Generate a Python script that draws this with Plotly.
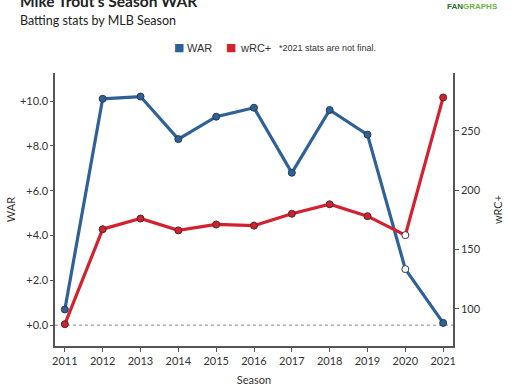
import plotly.graph_objects as go

seasons = [2011, 2012, 2013, 2014, 2015, 2016, 2017, 2018, 2019, 2020, 2021]
war = [0.7, 10.1, 10.2, 8.3, 9.3, 9.7, 6.8, 9.6, 8.5, 2.5, 0.1]
wrc_plus = [87, 167, 176, 166, 171, 170, 180, 188, 178, 162, 278]
hollow_season = 2020

war_ticks = [0, 2, 4, 6, 8, 10]
war_tick_labels = [f"{v:+.1f}" for v in war_ticks]
wrc_ticks = [100, 150, 200, 250]

BLUE = "#2f6199"
RED = "#d42130"
AXIS = "#555555"
TXT = "#333333"

def fills(color):
    return ["#ffffff" if s == hollow_season else color for s in seasons]

fig = go.Figure()
fig.add_trace(go.Scatter(
    x=seasons, y=war, mode="lines+markers", name="WAR", showlegend=False,
    line=dict(color=BLUE, width=3.2),
    marker=dict(size=7, color=fills(BLUE), line=dict(color="#2a3a4a", width=1)),
    yaxis="y", hoverinfo="x+y"))
fig.add_trace(go.Scatter(
    x=seasons, y=wrc_plus, mode="lines+markers", name="wRC+", showlegend=False,
    line=dict(color=RED, width=3.2),
    marker=dict(size=7, color=fills(RED), line=dict(color="#4a2a2a", width=1)),
    yaxis="y2", hoverinfo="x+y"))

fig.add_shape(type="line", xref="paper", x0=0, x1=1, yref="y", y0=0, y1=0,
              line=dict(color="#888888", width=1, dash="dot"), layer="below")

fig.update_layout(
    width=514, height=386,
    margin=dict(l=55, r=61, t=73, b=40, autoexpand=False),
    paper_bgcolor="white", plot_bgcolor="white",
    showlegend=False,
    font=dict(family="Lato, 'Open Sans', sans-serif", color=TXT, size=11),
    xaxis=dict(range=[2010.74, 2021.26], tickvals=seasons, showgrid=False,
               zeroline=False, showline=True, linecolor=AXIS, linewidth=1.5,
               ticks="outside", ticklen=4, tickcolor=AXIS,
               title=dict(text="Season", standoff=19, font=dict(size=11))),
    yaxis=dict(range=[-0.93, 11.25], tickvals=war_ticks, ticktext=war_tick_labels,
               showgrid=False, zeroline=False, showline=True, linecolor=AXIS,
               linewidth=1.5, ticks="outside", ticklen=3, tickcolor=AXIS,
               title=dict(text="WAR", standoff=2, font=dict(size=11))),
    yaxis2=dict(range=[68.6, 298.6], tickvals=wrc_ticks, overlaying="y", side="right",
                showgrid=False, zeroline=False, showline=True, linecolor=AXIS,
                linewidth=1.5, ticks="outside", ticklen=4, tickcolor=AXIS,
                title=dict(text="wRC+", standoff=15, font=dict(size=11))),
)

def top_text(text, x, y, size, color=TXT, family="Lato", anchor="left"):
    fig.add_annotation(text=text, xref="paper", yref="paper",
                       x=0, xshift=x - 55, y=1, yshift=73 - y,
                       xanchor=anchor, yanchor="middle", showarrow=False,
                       font=dict(family=family, size=size, color=color))

top_text("<b>Mike Trout's Season WAR</b>", 18, 0.5, 15.5, "#222222")
top_text("Batting stats by MLB Season", 18, 20, 12.5, "#222222")
# legend
top_text("■", 172, 47, 11, BLUE, "DejaVu Sans")
top_text("WAR", 185, 48, 11, TXT, "Liberation Sans")
top_text("■", 224, 47, 11, RED, "DejaVu Sans")
top_text("wRC+", 238, 48, 11, TXT, "Liberation Sans")
top_text("*2021 stats are not final.", 277, 48, 9, TXT, "Liberation Sans")
top_text("<b><span style='color:#2e6b2e'>FAN</span><span style='color:#6cb33f'>GRAPHS</span></b>",
         500, 6, 8, TXT, "Liberation Sans", anchor="right")

fig.write_html("out.html", config={"displayModeBar": False},
               post_script="document.body.style.margin='0';document.body.style.padding='0';")
